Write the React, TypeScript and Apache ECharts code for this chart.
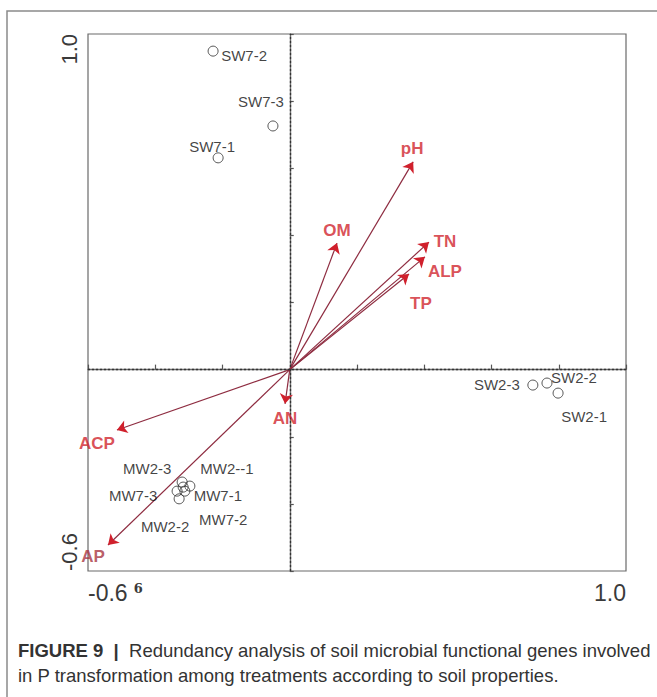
import React, { useEffect, useRef } from "react";
import * as echarts from "echarts";

// Sample scores (RDA1, RDA2)
const sampleNames = ["SW7-2", "SW7-3", "SW7-1", "SW2-3", "SW2-2", "SW2-1", "MW2-3", "MW2--1", "MW7-3", "MW7-1", "MW2-2", "MW7-2"];
const sampleX = [-0.228, -0.05, -0.213, 0.723, 0.765, 0.798, -0.32, -0.297, -0.335, -0.312, -0.329, -0.317];
const sampleY = [0.949, 0.726, 0.631, -0.046, -0.04, -0.07, -0.335, -0.347, -0.362, -0.362, -0.385, -0.35];
// label placement (pixels, relative to the point)
const sampleLabelOffset = [[31, 4], [-12, -24], [-6, -11], [-36, -1], [27, -6], [26, 23], [-35, -14], [37, -18], [-44, 4], [33, 4], [-14, 28], [40, 32]];

// Environmental vectors
const envNames = ["pH", "OM", "TN", "ALP", "TP", "AN", "ACP", "AP"];
const envX = [0.367, 0.1405, 0.414, 0.402, 0.3546, -0.014, -0.514, -0.5405];
const envY = [0.619, 0.377, 0.38, 0.336, 0.285, -0.102, -0.18, -0.5225];
const envLabelOffset = [[-1, -13], [0, -13], [16, -1], [20, 15], [12, 30], [0, 15], [-20, 13], [-15, 12]];

const xTickLabels = ["-0.6", "1.0"];
const yTickLabels = ["-0.6", "1.0"];
const axisMin = -0.6;
const axisMax = 1.0;

const captionHead = "FIGURE 9";
const caption1 = "Redundancy analysis of soil microbial functional genes involved";
const caption2 = "in P transformation among treatments according to soil properties.";

const FONT = "'Liberation Sans', Arial, sans-serif";

export default function App() {
  const ref = useRef<HTMLDivElement>(null);
  useEffect(() => {
    if (!ref.current) return;
    const chart = echarts.init(ref.current, null, { renderer: "svg" });
    const near = (v: number, t: number) => Math.abs(v - t) < 1e-6;
    const option: any = {
      animation: false,
      backgroundColor: "#fff",
      grid: {
        left: 88, right: 31, top: 34, bottom: 126,
        show: true, borderColor: "#6a6a6a", borderWidth: 1.2, backgroundColor: "#fff",
      },
      xAxis: {
        type: "value", min: axisMin, max: axisMax, interval: 0.2,
        axisLine: { lineStyle: { color: "#6a6a6a", width: 1.4 } },
        axisTick: { inside: true, length: 5, lineStyle: { color: "#555", width: 1.2 } },
        splitLine: { show: false },
        axisLabel: {
          margin: 10,
          alignMinLabel: "left", alignMaxLabel: "right",
          color: "#3a3a3a", fontSize: 23, fontFamily: FONT,
          formatter: (v: number) => near(v, axisMin) ? "{a|" + xTickLabels[0] + "}{s|6}" : near(v, axisMax) ? "{a|" + xTickLabels[1] + "}" : "",
          rich: {
            a: { fontSize: 23, color: "#3a3a3a", fontFamily: FONT },
            s: { fontSize: 13, fontWeight: "bold", fontFamily: "'DejaVu Serif', serif", color: "#3a3a3a", padding: [0, 0, 8, 6] },
          },
        },
      },
      yAxis: {
        type: "value", min: axisMin, max: axisMax, interval: 0.2,
        axisLine: { lineStyle: { color: "#6a6a6a", width: 1.4 } },
        axisTick: { inside: true, length: 4, lineStyle: { color: "#555", width: 1.2 } },
        splitLine: { show: false },
        axisLabel: {
          rotate: 90, margin: 8,
          alignMinLabel: "left", alignMaxLabel: "right",
          color: "#3a3a3a", fontSize: 22, fontFamily: FONT,
          formatter: (v: number) => near(v, axisMin) ? yTickLabels[0] : near(v, axisMax) ? yTickLabels[1] : "",
        },
      },
      graphic: [
        { type: "rect", silent: true, z: -10, shape: { x: 7, y: 11, width: 720, height: 720 }, style: { fill: "none", stroke: "#8a8a8a", lineWidth: 1.5 } },
        {
          type: "text", left: 18, top: 638,
          style: {
            text: "{b|" + captionHead + "}  {b||}  " + caption1 + "\n" + caption2,
            fontSize: 18.5, fontFamily: FONT, fill: "#333", lineHeight: 25,
            rich: { b: { fontSize: 18.5, fontWeight: "bold", fontFamily: FONT, fill: "#333", lineHeight: 25 } },
          },
        },
      ],
      series: [
        {
          type: "lines", coordinateSystem: "cartesian2d", z: 3, silent: true,
          symbol: ["none", "none"],
          lineStyle: { color: "#8e2c40", width: 1.2, opacity: 1 },
          data: envNames.map((n, i) => ({ name: n, coords: [[0, 0], [envX[i], envY[i]]] })),
        },
        {
          type: "lines", coordinateSystem: "cartesian2d", z: 4, silent: true,
          symbol: ["none", "arrow"], symbolSize: [0, 10],
          lineStyle: { color: "#d0202c", width: 0, opacity: 1 },
          data: envNames.map((n, i) => ({ name: n, coords: [[0, 0], [envX[i], envY[i]]] })),
        },
        {
          type: "scatter", z: 5, silent: true, symbolSize: 0,
          data: envNames.map((n, i) => ({
            name: n, value: [envX[i], envY[i]],
            label: { offset: envLabelOffset[i], color: n === "AP" ? "#a8343f" : "#d0232c" },
          })),
          label: {
            show: true, position: "inside", formatter: "{b}",
            fontSize: 17, fontWeight: "bold", fontFamily: FONT, color: "#d0232c",
            align: "center", verticalAlign: "middle",
          },
        },
        {
          type: "scatter", z: 6, silent: true, symbol: "circle", symbolSize: 10,
          itemStyle: { color: "rgba(255,255,255,0)", borderColor: "#2a2a2a", borderWidth: 1 },
          data: sampleNames.map((n, i) => ({
            name: n, value: [sampleX[i], sampleY[i]],
            label: { offset: sampleLabelOffset[i] },
          })),
          label: {
            show: true, position: "inside", formatter: "{b}",
            fontSize: 15, fontFamily: FONT, color: "#111",
            align: "center", verticalAlign: "middle",
          },
          markLine: {
            silent: true, symbol: ["none", "none"], label: { show: false },
            lineStyle: { color: "#333", type: [2, 2], width: 1.3 },
            data: [{ xAxis: 0 }, { yAxis: 0 }],
          },
        },
      ],
    };
    chart.setOption(option);
    return () => chart.dispose();
  }, []);
  return <div ref={ref} style={{ position: "absolute", left: 0, top: 0, width: 657, height: 697 }} />;
}
